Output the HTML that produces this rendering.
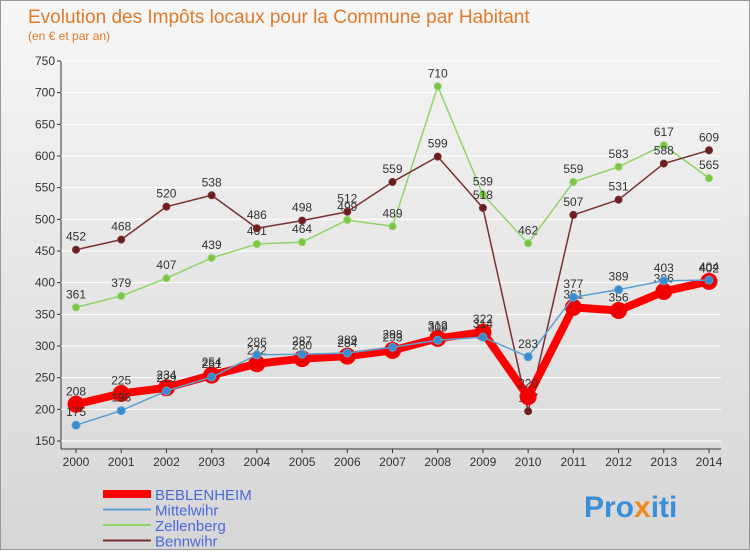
<!DOCTYPE html>
<html><head><meta charset="utf-8"><style>
body{margin:0;width:750px;height:550px;overflow:hidden;font-family:"Liberation Sans",sans-serif}
#wrap{position:relative;width:748px;height:548px;border:1px solid #999;background:linear-gradient(#f6f6f6,#d6d6d6)}
</style></head><body>
<div id="wrap">
<svg id="chart" width="748" height="548" xmlns="http://www.w3.org/2000/svg">
<text x="27" y="22" font-size="19" fill="#e07a2a">Evolution des Impôts locaux pour la Commune par Habitant</text>
<text x="27" y="39" font-size="12" fill="#e07a2a">(en € et par an)</text>
<g id="axes"></g><g id="series"></g><g id="legend"></g>
<text x="583" y="516" font-size="30" font-weight="bold" fill="#3a8fd8">Pro<tspan fill="#f08a20">x</tspan>iti</text>
</svg></div>
<script>
const years=[2000,2001,2002,2003,2004,2005,2006,2007,2008,2009,2010,2011,2012,2013,2014];
const yTicks=[150,200,250,300,350,400,450,500,550,600,650,700,750];
const beblenheim=[208,225,234,254,272,280,284,293,312,322,220,361,356,386,402];
const mittelwihr=[175,198,229,251,286,287,289,298,309,314,283,377,389,403,404];
const zellenberg=[361,379,407,439,461,464,499,489,710,539,462,559,583,617,565];
const bennwihr=[452,468,520,538,486,498,512,559,599,518,197,507,531,588,609];
const NS="http://www.w3.org/2000/svg";
function xs(i){return 75+i*(708-75)/(years.length-1);}
function ys(v){return 440-(v-150)*380/600;}
function mk(t,a,p){const e=document.createElementNS(NS,t);for(const k in a)e.setAttribute(k,a[k]);p.appendChild(e);return e;}
const ax=document.getElementById('axes');
let l=mk('line',{x1:60,y1:60,x2:60,y2:448,stroke:'#333'},ax);


l=mk('line',{x1:60,y1:448,x2:720,y2:448,stroke:'#333'},ax);


yTicks.forEach(v=>{
 const y=ys(v);
 const g=mk('line',{x1:60,y1:y,x2:720,y2:y,stroke:'#fff','stroke-width':1},ax);
 
 
 mk('line',{x1:56,y1:y,x2:60,y2:y,stroke:'#333'},ax);
 const t=mk('text',{x:54,y:y+4,'font-size':12,'text-anchor':'end',fill:'#333'},ax);
 t.textContent=v;
 
 
});
years.forEach((yr,i)=>{
 const x=xs(i);
 mk('line',{x1:x,y1:448,x2:x,y2:452,stroke:'#333'},ax);
 const t=mk('text',{x:x,y:465,'font-size':12,'text-anchor':'middle',fill:'#333'},ax);
 t.textContent=yr;
 
 
});
const sg=document.getElementById('series');
function draw(vals,color,w,r,name,dot){
 const g=mk('g',{},sg);
 
 
 const p=mk('polyline',{points:vals.map((v,i)=>xs(i)+','+ys(v)).join(' '),fill:'none',stroke:color,'stroke-width':w,'stroke-linejoin':'round'},g);
 
 
 vals.forEach((v,i)=>{
  const c=mk('circle',{cx:xs(i),cy:ys(v),r:r,fill:dot,stroke:color,'stroke-width':1},g);
  
  
  const t=mk('text',{x:xs(i),y:ys(v)-9,'font-size':12,'text-anchor':'middle',fill:'#333'},g);
  t.textContent=v;
  
  
 });
}
draw(zellenberg,'#8fd46a',1.5,3.5,'zellenberg','#7cc540');
draw(bennwihr,'#7a3030',1.5,3.5,'bennwihr','#6a1e1e');
draw(beblenheim,'#ff0000',8,8,'beblenheim','#ee0000');
draw(mittelwihr,'#5aa0d0',1.5,4,'mittelwihr','#3a8ad0');
const lg=document.getElementById('legend');
const items=[['BEBLENHEIM','#ff0000',8],['Mittelwihr','#5aa0d0',2],['Zellenberg','#8fd46a',2],['Bennwihr','#7a3030',2]];
items.forEach((it,i)=>{
 const y=493+i*15.5;
 const ln=mk('line',{x1:102,y1:y,x2:150,y2:y,stroke:it[1],'stroke-width':it[2]},lg);
 
 
 const t=mk('text',{x:154,y:y+6,'font-size':15,fill:'#4a6ad8'},lg);
 t.textContent=it[0];
 
 
});
</script>
</body></html>
